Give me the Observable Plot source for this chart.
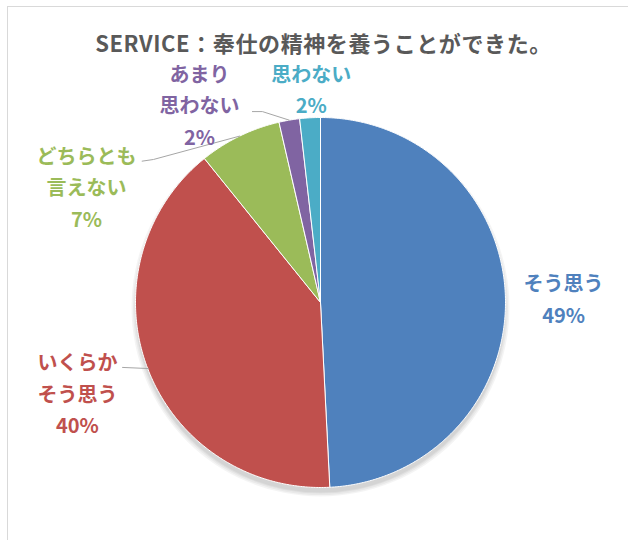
<!DOCTYPE html>
<html>
<head>
<meta charset="utf-8">
<script src="https://cdn.jsdelivr.net/npm/d3@7"></script>
<script src="https://cdn.jsdelivr.net/npm/@observablehq/plot@0.6"></script>
<style>
  html, body { margin: 0; padding: 0; background: #fff; }
  #frame { position: relative; width: 628px; height: 540px; overflow: hidden; background: #fff; }
  #border { position: absolute; left: 7px; top: 6px; width: 700px; height: 600px; border-left: 1px solid #d9d9d9; border-top: 1px solid #d9d9d9; }
  #title { position: absolute; left: 7px; width: 633px; top: 27px; text-align: center;
           font-family: "Noto Sans CJK JP", "Noto Sans", sans-serif; font-weight: bold; font-size: 22px;
           letter-spacing: 0.6px; line-height: 30px; color: #595959; white-space: nowrap; }
  #chart { position: absolute; left: 0; top: 60px; }
</style>
</head>
<body>
<div id="frame">
  <div id="border"></div>
  <div id="title">SERVICE：奉仕の精神を養うことができた。</div>
  <div id="chart"></div>
</div>
<script>
// ---- data ----
const categories = ["そう思う", "いくらか\nそう思う", "どちらとも\n言えない", "あまり\n思わない", "思わない"];
const values = [49.2, 40.0, 7.2, 1.8, 1.8];
const pctLabels = ["49%", "40%", "7%", "2%", "2%"];

// ---- style / layout (pie radius units, centre at 0,0) ----
const palette = ["#4F81BD", "#C0504D", "#9BBB59", "#8064A2", "#4BACC6"];
const labelAt = [[1.314, 0.030], [-1.314, -0.481], [-1.265, 0.635], [-0.654, 1.078], [-0.050, 1.164]];
const leaderStart = [null, [[-1.070, -0.351], [-0.930, -0.357]], [[-0.964, 0.764], [-0.903, 0.773]], [[-0.368, 1.032], [-0.314, 1.032]], null];

const W = 628, H = 480, R = 185, CX = 320, CY = 242;

const arcs = d3.pie().sort(null).value(d => d)(values);

function slicePoly(a, i) {
  const n = Math.max(2, Math.ceil((a.endAngle - a.startAngle) / (Math.PI / 360)));
  const pts = [{x: 0, y: 0, s: i}];
  for (let k = 0; k <= n; k++) {
    const t = a.startAngle + (a.endAngle - a.startAngle) * k / n;
    pts.push({x: Math.sin(t), y: Math.cos(t), s: i});
  }
  pts.push({x: 0, y: 0, s: i});
  return pts;
}

const marks = [];
// soft shadow beneath the pie
[4, 2.5, 1, 0].forEach(g => {
  marks.push(Plot.dot([{x: 0, y: -5 / R}], {x: "x", y: "y", r: R + g, fill: "black", fillOpacity: 0.045, stroke: "none"}));
});

arcs.forEach((a, i) => {
  marks.push(Plot.line(slicePoly(a, i), {x: "x", y: "y", z: "s", fill: palette[i], stroke: "white", strokeWidth: 1, strokeLinejoin: "round"}));
});

arcs.forEach((a, i) => {
  if (!leaderStart[i]) return;
  let end;
  if (i === 1) end = leaderStart[i][1];
  else { const m = (a.startAngle + a.endAngle) / 2; end = [Math.sin(m), Math.cos(m)]; }
  const pts = [...leaderStart[i], end].map(p => ({x: p[0], y: p[1]}));
  marks.push(Plot.line(pts, {x: "x", y: "y", stroke: "#A6A6A6", strokeWidth: 1}));
});

const labels = categories.map((c, i) => ({x: labelAt[i][0], y: labelAt[i][1], text: c + "\n" + pctLabels[i], color: palette[i]}));
marks.push(Plot.text(labels, {x: "x", y: "y", text: "text", fill: "color", fontSize: 20, fontWeight: "bold",
  lineHeight: 1.575, fontFamily: "Noto Sans CJK JP, Noto Sans, sans-serif"}));

const plot = Plot.plot({
  width: W, height: H,
  marginTop: 0, marginRight: 0, marginBottom: 0, marginLeft: 0,
  x: {domain: [-CX / R, (W - CX) / R], axis: null},
  y: {domain: [-(H - CY) / R, CY / R], axis: null},
  color: {type: "identity"},
  style: {background: "transparent", overflow: "visible"},
  marks
});
document.getElementById("chart").appendChild(plot);
</script>
</body>
</html>
